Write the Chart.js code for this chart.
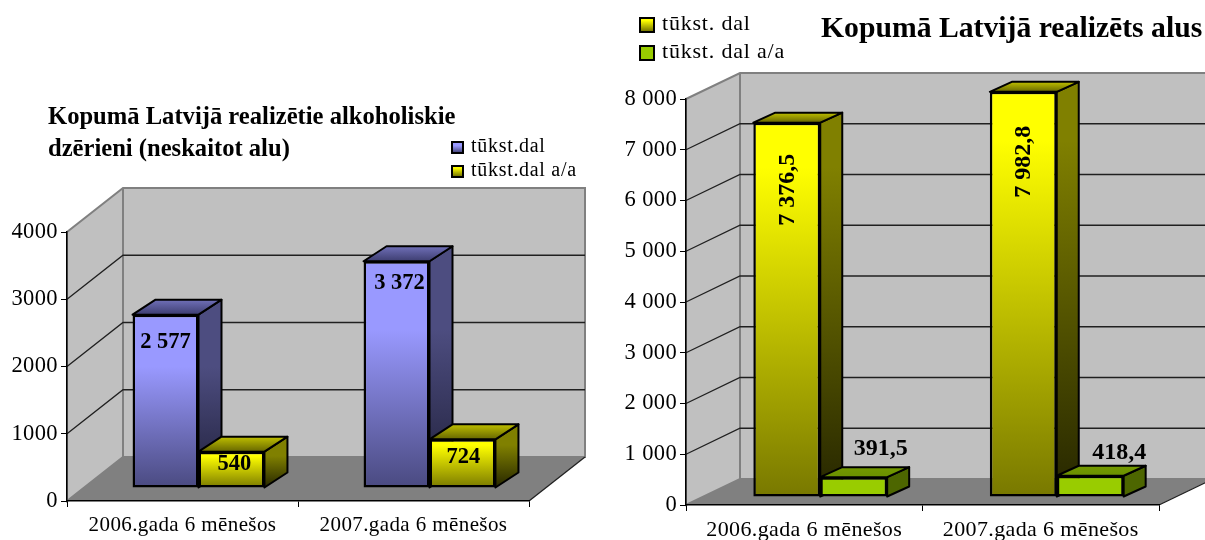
<!DOCTYPE html>
<html lang="lv">
<head>
<meta charset="utf-8">
<title>Kopumā Latvijā realizēts</title>
<script src="https://cdn.jsdelivr.net/npm/chart.js@4"></script>
<style>
  html, body { margin: 0; background: #fff; width: 1205px; height: 540px; overflow: hidden; }
  body { position: relative; font-family: "Liberation Serif", serif; color: #000; }
  canvas { position: absolute; top: 0; }
  #altChart { left: 0; }
  #beerChart { left: 600px; }
  .title { position: absolute; font-weight: bold; white-space: nowrap; }
  .legend { position: absolute; white-space: nowrap; }
  .legend i { position: absolute; left: 0; border: 2px solid #000; box-sizing: border-box; }
  .legend span { position: absolute; }
</style>
</head>
<body>
<canvas id="altChart" width="600" height="540"></canvas>
<canvas id="beerChart" width="605" height="540"></canvas>

<div class="title" style="left:48px;top:100px;font-size:24.6px;line-height:32px">Kopumā Latvijā realizētie alkoholiskie<br>dzērieni (neskaitot alu)</div>
<div class="title" style="left:821px;top:11px;font-size:29.7px;line-height:32px">Kopumā Latvijā realizēts alus</div>
<div class="legend" id="altLegend"></div>
<div class="legend" id="beerLegend"></div>

<script>
// Chart data
const periods = ['2006.gada 6 mēnešos', '2007.gada 6 mēnešos'];

const altNames = ['tūkst.dal', 'tūkst.dal a/a'];
const altVolume = [2577, 3372];
const altVolumeLabels = ['2 577', '3 372'];
const altYoY = [540, 724];
const altYoYLabels = ['540', '724'];
const altTicks = ['0', '1000', '2000', '3000', '4000'];

const beerNames = ['tūkst. dal', 'tūkst. dal a/a'];
const beerVolume = [7376.5, 7982.8];
const beerVolumeLabels = ['7 376,5', '7 982,8'];
const beerYoY = [391.5, 418.4];
const beerYoYLabels = ['391,5', '418,4'];
const beerTicks = ['0', '1 000', '2 000', '3 000', '4 000', '5 000', '6 000', '7 000', '8 000'];

// Colours for one bar colour: front gradient, side gradient, top gradient (back to front)
const blueBar = {
    front: [[0, '#9999ff'], [0.3, '#9999ff'], [1, '#4a4a80']],
    side: [[0, '#4d4d80'], [0.3, '#4d4d80'], [1, '#20203a']],
    top: ['#7070b8', '#3d3d70']
};
const yellowBar = {
    front: [[0, '#ffff00'], [0.12, '#ffff00'], [1, '#787800']],
    side: [[0, '#808000'], [0.12, '#808000'], [1, '#262600']],
    top: ['#c0c000', '#666600']
};
const greenBar = {
    front: [[0, '#99cc00'], [1, '#99cc00']],
    side: [[0, '#4d6600'], [1, '#4d6600']],
    top: ['#739900', '#6b9000']
};

function addStops(grad, stops) {
    stops.forEach(s => grad.addColorStop(s[0], s[1]));
    return grad;
}

// Draws the walls, floor and the depth of the bars around the normal Chart.js bars
const box3d = {
    id: 'box3d',
    beforeDraw(chart, args, o) {
        const c = chart.ctx, a = chart.chartArea, y = chart.scales.y;
        c.letterSpacing = o.tickSpacing + 'px';
        const dx = o.depthX, dy = o.depthY;
        // left wall + back wall
        c.save();
        c.fillStyle = '#c0c0c0';
        c.strokeStyle = '#808080';
        c.lineWidth = 2;
        c.beginPath();
        c.moveTo(a.left, a.bottom);
        c.lineTo(a.left, a.top);
        c.lineTo(a.left + dx, a.top - dy);
        c.lineTo(a.right + dx, a.top - dy);
        c.lineTo(a.right + dx, a.bottom - dy);
        c.lineTo(a.left + dx, a.bottom - dy);
        c.closePath();
        c.fill();
        c.stroke();
        c.beginPath();
        c.moveTo(a.left + dx, a.top - dy);
        c.lineTo(a.left + dx, a.bottom - dy);
        c.stroke();
        // floor
        c.fillStyle = '#808080';
        c.beginPath();
        c.moveTo(a.left, a.bottom);
        c.lineTo(a.left + dx, a.bottom - dy);
        c.lineTo(a.right + dx, a.bottom - dy);
        c.lineTo(a.right, a.bottom);
        c.closePath();
        c.fill();
        c.strokeStyle = '#202020';
        c.lineWidth = 1.3;
        c.beginPath();
        c.moveTo(a.right, a.bottom);
        c.lineTo(a.right + dx, a.bottom - dy);
        c.stroke();
        // grid lines on both walls, bottom and top stay without a line
        y.ticks.slice(1, -1).forEach(t => {
            const py = y.getPixelForValue(t.value);
            c.beginPath();
            c.moveTo(a.left, py);
            c.lineTo(a.left + dx, py - dy);
            c.lineTo(a.right + dx, py - dy);
            c.stroke();
        });
        c.restore();
    },
    beforeDatasetsDraw(chart, args, o) {
        const c = chart.ctx;
        c.save();
        c.translate(o.shiftX, -o.shiftY);
        c.strokeStyle = '#000';
        c.lineWidth = 2;
        c.lineJoin = 'round';
        [0, 1].forEach(d => {
            const look = o.looks[d];
            chart.getDatasetMeta(d).data.forEach(b => {
                const r = b.x + b.width / 2, l = b.x - b.width / 2;
                const bx = o.barDepthX, by = o.barDepthY;
                // side face
                c.fillStyle = addStops(c.createLinearGradient(0, b.y, 0, b.base), look.side);
                c.beginPath();
                c.moveTo(r, b.y);
                c.lineTo(r + bx, b.y - by);
                c.lineTo(r + bx, b.base - by);
                c.lineTo(r, b.base);
                c.closePath();
                c.fill();
                c.stroke();
                // top face
                const g = c.createLinearGradient(0, b.y - by, 0, b.y);
                g.addColorStop(0, look.top[0]);
                g.addColorStop(1, look.top[1]);
                c.fillStyle = g;
                c.beginPath();
                c.moveTo(l, b.y);
                c.lineTo(l + bx, b.y - by);
                c.lineTo(r + bx, b.y - by);
                c.lineTo(r, b.y);
                c.closePath();
                c.fill();
                c.stroke();
            });
        });
        // the front faces are drawn by Chart.js under this same shift
    },
    afterDatasetsDraw(chart, args, o) {
        const c = chart.ctx;
        c.restore();
        // value labels
        c.save();
        c.letterSpacing = '0px';
        c.fillStyle = '#000';
        c.font = 'bold ' + o.labelSize + 'px "Liberation Serif"';
        c.textAlign = 'center';
        c.textBaseline = 'middle';
        [0, 1].forEach(d => {
            chart.getDatasetMeta(d).data.forEach((b, i) => {
                const pos = o.labelPos[d][i];
                const lx = b.x + o.shiftX + pos[0];
                const ly = b.y - o.shiftY + pos[1];
                c.save();
                c.translate(lx, ly);
                if (pos[2]) c.rotate(-Math.PI / 2);
                c.fillText(o.labels[d][i], 0, 0);
                c.restore();
            });
        });
        c.restore();
    }
};

function frontGradient(look) {
    return function (ctx) {
        const y = ctx.chart.scales.y;
        const fallback = look.front[0][1];
        if (!y || !ctx.parsed) return fallback;
        const top = y.getPixelForValue(ctx.parsed.y), base = y.getPixelForValue(0);
        if (!Number.isFinite(top) || !Number.isFinite(base)) return fallback;
        return addStops(ctx.chart.ctx.createLinearGradient(0, top, 0, base), look.front);
    };
}

function buildChart(id, names, valuesA, valuesB, tickLabels, yMax, s) {
    return new Chart(document.getElementById(id).getContext('2d'), {
        type: 'bar',
        plugins: [box3d],
        data: {
            labels: periods,
            datasets: [
                { label: names[0], data: valuesA, backgroundColor: frontGradient(s.looks[0]) },
                { label: names[1], data: valuesB, backgroundColor: frontGradient(s.looks[1]) }
            ]
        },
        options: {
            responsive: false,
            animation: false,
            layout: { padding: { left: 0, top: s.top, right: s.right, bottom: 0 } },
            datasets: {
                bar: {
                    categoryPercentage: s.groupWidth,
                    barPercentage: 1,
                    borderColor: '#000',
                    borderWidth: 2.5,
                    borderSkipped: false,
                    inflateAmount: 0
                }
            },
            scales: {
                x: {
                    afterFit: a => { a.height = s.xHeight; },
                    border: { color: '#000', width: 1.5 },
                    grid: { drawOnChartArea: false, color: '#000', tickLength: 6 },
                    ticks: { color: '#000', padding: s.xPad, maxRotation: 0, font: { family: 'Liberation Serif', size: s.xFont } }
                },
                y: {
                    min: 0,
                    max: yMax,
                    afterFit: a => { a.width = s.yWidth; },
                    border: { color: '#000', width: 1.5 },
                    grid: { drawOnChartArea: false, color: '#000', tickLength: 6 },
                    ticks: {
                        stepSize: yMax / (tickLabels.length - 1),
                        color: '#000',
                        padding: s.yPad,
                        font: { family: 'Liberation Serif', size: s.yFont },
                        callback: (v, i) => tickLabels[i]
                    }
                }
            },
            plugins: {
                legend: { display: false },
                title: { display: false },
                tooltip: { enabled: false },
                box3d: {
                    depthX: s.depthX, depthY: s.depthY,
                    shiftX: s.shiftX, shiftY: s.shiftY,
                    barDepthX: s.barDepthX, barDepthY: s.barDepthY,
                    looks: s.looks, labels: s.labels, labelPos: s.labelPos,
                    labelSize: s.labelSize, tickSpacing: s.tickSpacing
                }
            }
        }
    });
}

buildChart('altChart', altNames, altVolume, altYoY, altTicks, 4000, {
    top: 232, right: 71, xHeight: 39, yWidth: 67, groupWidth: 0.571,
    xPad: 6, yPad: 3, xFont: 21, yFont: 22.5, tickSpacing: 0.4,
    depthX: 56, depthY: 44, shiftX: 16, shiftY: 13, barDepthX: 23, barDepthY: 15,
    looks: [blueBar, yellowBar],
    labels: [altVolumeLabels, altYoYLabels],
    labelPos: [[[0, 27], [3, 22]], [[3, 13], [1, 18]]],
    labelSize: 22.5
});

buildChart('beerChart', beerNames, beerVolume, beerYoY, beerTicks, 8000, {
    top: 99, right: 46, xHeight: 35, yWidth: 86, groupWidth: 0.566,
    xPad: 6, yPad: 3, xFont: 22, yFont: 22.5, tickSpacing: 0.37,
    depthX: 54, depthY: 26, shiftX: 16, shiftY: 8, barDepthX: 22, barDepthY: 10,
    looks: [yellowBar, greenBar],
    labels: [beerVolumeLabels, beerYoYLabels],
    labelPos: [[[1, 67, true], [1, 70, true]], [[27, -28], [29, -23]]],
    labelSize: 24
});

// Legends
function buildLegend(id, names, looks, left, top, box, step, textX, size, spacing) {
    const el = document.getElementById(id);
    el.style.left = left + 'px';
    el.style.top = top + 'px';
    names.forEach((name, i) => {
        const stops = looks[i].front.map(s => s[1] + ' ' + s[0] * 100 + '%').join(',');
        const sw = document.createElement('i');
        sw.style.cssText = `top:${i * step}px;width:${box}px;height:${box}px;background:linear-gradient(${stops})`;
        const tx = document.createElement('span');
        tx.textContent = name;
        tx.style.cssText = `left:${textX}px;top:${i * step + box / 2 - size * 0.62 - 1}px;font-size:${size}px;letter-spacing:${spacing}px`;
        el.appendChild(sw);
        el.appendChild(tx);
    });
}
buildLegend('altLegend', altNames, [blueBar, yellowBar], 451, 141, 13, 24, 20, 20, 0.7);
buildLegend('beerLegend', beerNames, [yellowBar, greenBar], 639, 17, 16, 28, 23, 22, 0.8);
</script>
</body>
</html>
